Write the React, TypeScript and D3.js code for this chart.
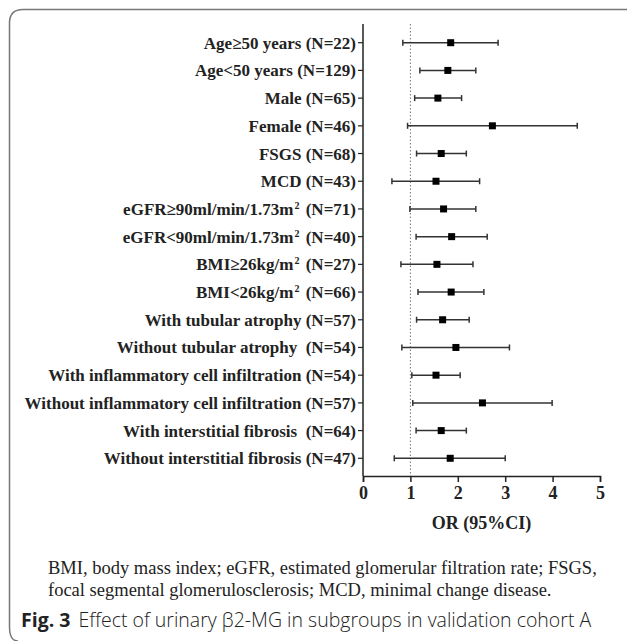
import * as d3 from 'd3';
import { useRef, useEffect } from 'react';

// subgroup labels, "^2" marks a superscript 2
const subgroups = [
  'Age≥50 years (N=22)',
  'Age<50 years (N=129)',
  'Male (N=65)',
  'Female (N=46)',
  'FSGS (N=68)',
  'MCD (N=43)',
  'eGFR≥90ml/min/1.73m^2 (N=71)',
  'eGFR<90ml/min/1.73m^2 (N=40)',
  'BMI≥26kg/m^2 (N=27)',
  'BMI<26kg/m^2 (N=66)',
  'With tubular atrophy (N=57)',
  'Without tubular atrophy  (N=54)',
  'With inflammatory cell infiltration (N=54)',
  'Without inflammatory cell infiltration (N=57)',
  'With interstitial fibrosis  (N=64)',
  'Without interstitial fibrosis (N=47)'
];
const oddsRatio = [1.85, 1.79, 1.58, 2.73, 1.65, 1.54, 1.70, 1.87, 1.56, 1.86, 1.68, 1.96, 1.54, 2.52, 1.65, 1.84];
const ciLower = [0.84, 1.20, 1.09, 0.94, 1.13, 0.61, 0.99, 1.12, 0.80, 1.16, 1.13, 0.82, 1.03, 1.05, 1.12, 0.66];
const ciUpper = [2.85, 2.38, 2.08, 4.52, 2.18, 2.46, 2.38, 2.62, 2.32, 2.55, 2.24, 3.09, 2.05, 3.99, 2.18, 3.00];
const xTicks = [0, 1, 2, 3, 4, 5];

const footnote = [
  'BMI, body mass index; eGFR, estimated glomerular filtration rate; FSGS,',
  'focal segmental glomerulosclerosis; MCD, minimal change disease.'
];

export default function App() {
  const ref = useRef<SVGSVGElement>(null);

  useEffect(() => {
    const width = 627;
    const height = 641;
    const svg = d3.select(ref.current)
      .attr('width', width)
      .attr('height', height);
    svg.selectAll('*').remove();

    const serif = '"Liberation Serif", "Times New Roman", serif';
    const plotTop = 24;
    const plotBottom = 476;

    const x = d3.scaleLinear().domain([0, 5]).range([363, 600]);
    const y = d3.scalePoint<string>().domain(subgroups).range([42.7, 458.3]);

    // frame around figure (only top and left edges visible)
    svg.append('path')
      .attr('d', 'M627,9.5 L23,9.5 Q9.5,9.5 9.5,23 L9.5,627 Q9.5,641 18,641')
      .attr('fill', 'none')
      .attr('stroke', '#777')
      .attr('stroke-width', 1.5);

    // reference line at OR = 1
    svg.append('line')
      .attr('x1', x(1)).attr('x2', x(1))
      .attr('y1', plotTop).attr('y2', plotBottom)
      .attr('stroke', '#777')
      .attr('stroke-width', 1)
      .attr('stroke-dasharray', '1.5,2');

    // y axis line and ticks
    svg.append('line')
      .attr('x1', x(0)).attr('x2', x(0))
      .attr('y1', plotTop).attr('y2', plotBottom)
      .attr('stroke', '#222')
      .attr('stroke-width', 1.5);

    const rows = svg.append('g')
      .selectAll('g')
      .data(subgroups)
      .enter()
      .append('g')
      .attr('transform', d => `translate(0, ${y(d)})`);

    rows.append('line')
      .attr('x1', x(0) - 5).attr('x2', x(0))
      .attr('stroke', '#222')
      .attr('stroke-width', 1.2);

    const labels = rows.append('text')
      .attr('x', x(0) - 7)
      .attr('y', 6)
      .attr('text-anchor', 'end')
      .style('font-family', serif)
      .style('font-weight', 'bold')
      .style('font-size', '17px')
      .style('white-space', 'pre')
      .attr('fill', '#222');

    labels.each(function (d) {
      const t = d3.select(this);
      const parts = d.split('^2');
      if (parts.length === 1) {
        t.text(d);
      } else {
        t.append('tspan').text(parts[0]);
        t.append('tspan').attr('dy', -6).attr('dx', 1).style('font-size', '10px').text('2');
        t.append('tspan').attr('dy', 6).attr('dx', 2).text(parts[1]);
      }
    });

    // confidence interval bars
    const bars = svg.append('g')
      .selectAll('g')
      .data(subgroups)
      .enter()
      .append('g')
      .attr('transform', d => `translate(0, ${y(d)})`)
      .attr('stroke', '#333')
      .attr('stroke-width', 1.5);

    bars.append('line')
      .attr('x1', (d, i) => x(ciLower[i]))
      .attr('x2', (d, i) => x(ciUpper[i]));
    bars.append('line')
      .attr('x1', (d, i) => x(ciLower[i]))
      .attr('x2', (d, i) => x(ciLower[i]))
      .attr('y1', -3).attr('y2', 3);
    bars.append('line')
      .attr('x1', (d, i) => x(ciUpper[i]))
      .attr('x2', (d, i) => x(ciUpper[i]))
      .attr('y1', -3).attr('y2', 3);

    svg.append('g')
      .selectAll('rect')
      .data(subgroups)
      .enter()
      .append('rect')
      .attr('x', (d, i) => x(oddsRatio[i]) - 3.5)
      .attr('y', d => (y(d) as number) - 3.5)
      .attr('width', 7)
      .attr('height', 7)
      .attr('fill', '#000');

    // x axis
    const xAxis = svg.append('g')
      .attr('transform', `translate(0, ${plotBottom})`)
      .call(d3.axisBottom(x).tickValues(xTicks).tickFormat(d3.format('d')).tickSize(6).tickSizeOuter(6).tickPadding(4));
    xAxis.select('.domain').attr('stroke', '#222').attr('stroke-width', 1.5);
    xAxis.selectAll('.tick line').attr('stroke', '#222').attr('stroke-width', 1.5);
    xAxis.selectAll('.tick text')
      .attr('fill', '#222')
      .style('font-family', serif)
      .style('font-weight', 'bold')
      .style('font-size', '18px');

    svg.append('text')
      .attr('x', (x(0) + x(5)) / 2)
      .attr('y', 529)
      .attr('text-anchor', 'middle')
      .style('font-family', serif)
      .style('font-weight', 'bold')
      .style('font-size', '18px')
      .attr('fill', '#222')
      .text('OR (95%CI)');

    // footnote
    svg.append('g')
      .selectAll('text')
      .data(footnote)
      .enter()
      .append('text')
      .attr('x', 48)
      .attr('y', (d, i) => 574 + i * 22)
      .style('font-family', serif)
      .style('font-size', '18.5px')
      .attr('fill', '#222')
      .text(d => d);

    const caption = svg.append('text')
      .attr('x', 21)
      .attr('y', 627)
      .style('font-family', '"Open Sans", sans-serif')
      .style('font-size', '19.5px')
      .attr('fill', '#222');
    caption.append('tspan').style('font-weight', 'bold').text('Fig. 3');
    caption.append('tspan').attr('dx', 8).style('font-weight', 300).text('Effect of urinary β2-MG in subgroups in validation cohort A');
  }, []);

  return (
    <svg ref={ref} style={{ position: 'absolute', left: 0, top: 0, background: '#fff' }}></svg>
  );
}
